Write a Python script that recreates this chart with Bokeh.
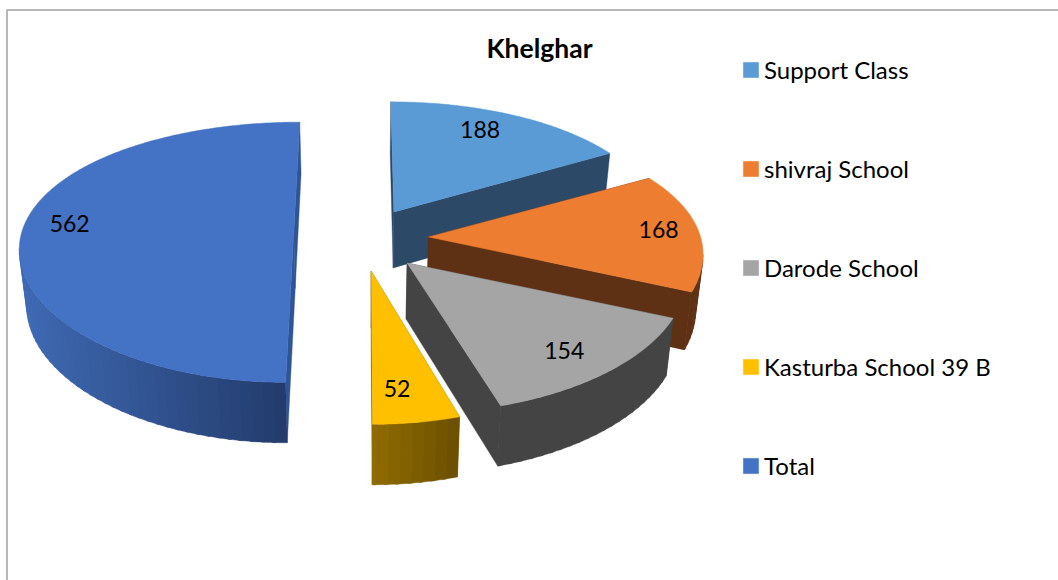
import numpy as np
from bokeh.plotting import figure
from bokeh.embed import file_html
from bokeh.resources import INLINE
from bokeh.models import Legend, LegendItem, Label, ColumnDataSource
from bokeh.core.properties import value

# ---- chart data -------------------------------------------------------
title_text = "Khelghar"
categories = ["Support Class", "shivraj School", "Darode School", "Kasturba School 39 B", "Total"]
values = [188, 168, 154, 52, 562]

# ---- styling ----------------------------------------------------------
top_colors = ["#5b9bd5", "#ed7d31", "#a5a5a5", "#ffc000", "#4472c4"]
wall_light = ["#2c4a68", "#5f3114", "#444444", "#8f6c00", "#3f6ab4"]
wall_dark = ["#2c4a68", "#5f3114", "#444444", "#6b5000", "#233b6c"]
cut_colors = ["#2c4a68", "#5f3114", "#444444", "#6b5000", "#2f5597"]
FONT = "Lato"

# projection of the tilted pie plane (fitted to the picture)
CX, CY = 360.5, 238.0
AX, AY, KX, KY = 272.0, 127.0, 0.11, 0.154
VX, VY = 360.0, -1000.0
TIP_AX, TIP_K = 271.0, 0.154
DEPTH, DEPTH_GROW, CONVERGE = 56.0, 0.08, 0.022
explode = [0.25, 0.25, 0.25, 0.25, 0.25]
explode_extra_y = [0, 0, 0, 0, -0.05]
slice_scale_x = [0.972, 1.0, 1.015, 1.0, 1.0]
slice_scale_y = [1.0, 1.0, 1.0, 1.02, 1.0]
label_place = [(0.44, 0.81), (0.485, 0.854), (0.533, 0.813), (0.64, 0.80), (0.527, 0.835)]
FINE_PER_BAND = 3


def slice_tip(i, a0, a1):
    mid = (a0 + a1) / 2
    ox = explode[i] * np.sin(mid)
    oy = -explode[i] * np.cos(mid) + explode_extra_y[i]
    w = 1.0 / (1.0 - TIP_K * oy)
    return CX + TIP_AX * ox * w, CY + AY * oy * w


def rim_point(i, xt, yt, X, Y):
    dy = AY * slice_scale_y[i] * Y / (1.0 - KY * Y)
    shear = (xt - VX) / (yt - VY)
    return xt + AX * slice_scale_x[i] * X / (1.0 - KX * Y) + shear * dy, yt + dy


def drop(x, y, Y):
    return CX + (x - CX) * (1 - CONVERGE), y + DEPTH * (1 + DEPTH_GROW * Y)


def lerp_color(c1, c2, t):
    a = [int(c1[i:i + 2], 16) for i in (1, 3, 5)]
    b = [int(c2[i:i + 2], 16) for i in (1, 3, 5)]
    return "#%02x%02x%02x" % tuple(int(round(u + (v - u) * t)) for u, v in zip(a, b))


p = figure(width=1058, height=580, x_range=(0, 1058), y_range=(580, 0),
           toolbar_location=None, output_backend="svg", min_border=0,
           outline_line_color=None, background_fill_color="white")
p.axis.visible = False
p.grid.visible = False

# chart frame (left and top edges show in the picture)
p.line([6.5, 6.5, 1058], [580, 9.5, 9.5], line_color="#a0a0a0", line_width=1.5)

total = sum(values)
fracs = np.array(values) / total
starts = np.concatenate([[0], np.cumsum(fracs)[:-1]]) * 2 * np.pi
ends = np.cumsum(fracs) * 2 * np.pi

tops = []
for i in [4, 0, 1, 2, 3]:
    a0, a1 = starts[i], ends[i]
    xt, yt = slice_tip(i, a0, a1)
    th = np.linspace(a0, a1, max(16, int((a1 - a0) * 80)))
    Xa, Ya = np.sin(th), -np.cos(th)
    xa, ya = rim_point(i, xt, yt, Xa, Ya)
    xb, yb = drop(xa, ya, Ya)
    xtb, ytb = drop(xt, yt, 0.0)

    # two cut faces from the tip to the rim
    face_x = [[xt, xa[0], xb[0], xtb], [xt, xa[-1], xb[-1], xtb]]
    face_y = [[yt, ya[0], yb[0], ytb], [yt, ya[-1], yb[-1], ytb]]
    face_c = [cut_colors[i], cut_colors[i]]

    # front rim only, shaded band by band from the right (dark) to the left (light)
    front = [j for j in range(len(th) - 1) if xa[j + 1] < xa[j]]
    if front:
        xmax, xmin = xa[front].max(), xa[front].min()
        for s in range(0, len(front), FINE_PER_BAND):
            idx = front[s:s + FINE_PER_BAND]
            seq = list(idx) + [min(idx[-1] + 1, len(th) - 1)]
            if idx[-1] + 2 < len(th):
                seq.append(idx[-1] + 2)  # overlap the next band to hide the seam
            face_x.append(list(xa[seq]) + list(xb[seq][::-1]))
            face_y.append(list(ya[seq]) + list(yb[seq][::-1]))
            shade = (xa[idx].mean() - xmin) / max(xmax - xmin, 1e-6)
            face_c.append(lerp_color(wall_light[i], wall_dark[i], shade))

    src = ColumnDataSource(dict(xs=[list(map(float, f)) for f in face_x],
                                ys=[list(map(float, f)) for f in face_y],
                                c=face_c))
    p.patches("xs", "ys", source=src, fill_color="c", line_color="c", line_width=0.4)

    top = p.patch(list(map(float, np.r_[xt, xa])), list(map(float, np.r_[yt, ya])),
                  fill_color=top_colors[i], line_color=top_colors[i], line_width=0.5)
    tops.append((i, top))

# value labels
lx, ly, lt = [], [], []
for i, v in enumerate(values):
    a0, a1 = starts[i], ends[i]
    xt, yt = slice_tip(i, a0, a1)
    f, r = label_place[i]
    an = a0 + f * (a1 - a0)
    x, y = rim_point(i, xt, yt, r * np.sin(an), -r * np.cos(an))
    lx.append(float(x)); ly.append(float(y)); lt.append(str(v))
p.text(lx, ly, text=lt, text_align="center", text_baseline="middle",
       text_font=value(FONT), text_font_size="23px", text_color="#000000")

p.add_layout(Label(x=539, y=47, text=title_text, text_align="center", text_baseline="middle",
                   text_font=FONT, text_font_style="bold", text_font_size="26.5px", text_color="#000000"))

rend = dict(tops)
items = [LegendItem(label=categories[i], renderers=[rend[i]]) for i in range(5)]
legend = Legend(items=items, location=(741, 580 - 480), orientation="vertical",
                glyph_width=19, glyph_height=19, label_standoff=4, padding=0, margin=0,
                spacing=70, label_height=20, label_text_font=FONT, label_text_font_size="24px",
                label_text_color="#000000", background_fill_alpha=0, border_line_color=None)
p.add_layout(legend, "center")

open("out.html", "w").write(file_html(p, INLINE))
